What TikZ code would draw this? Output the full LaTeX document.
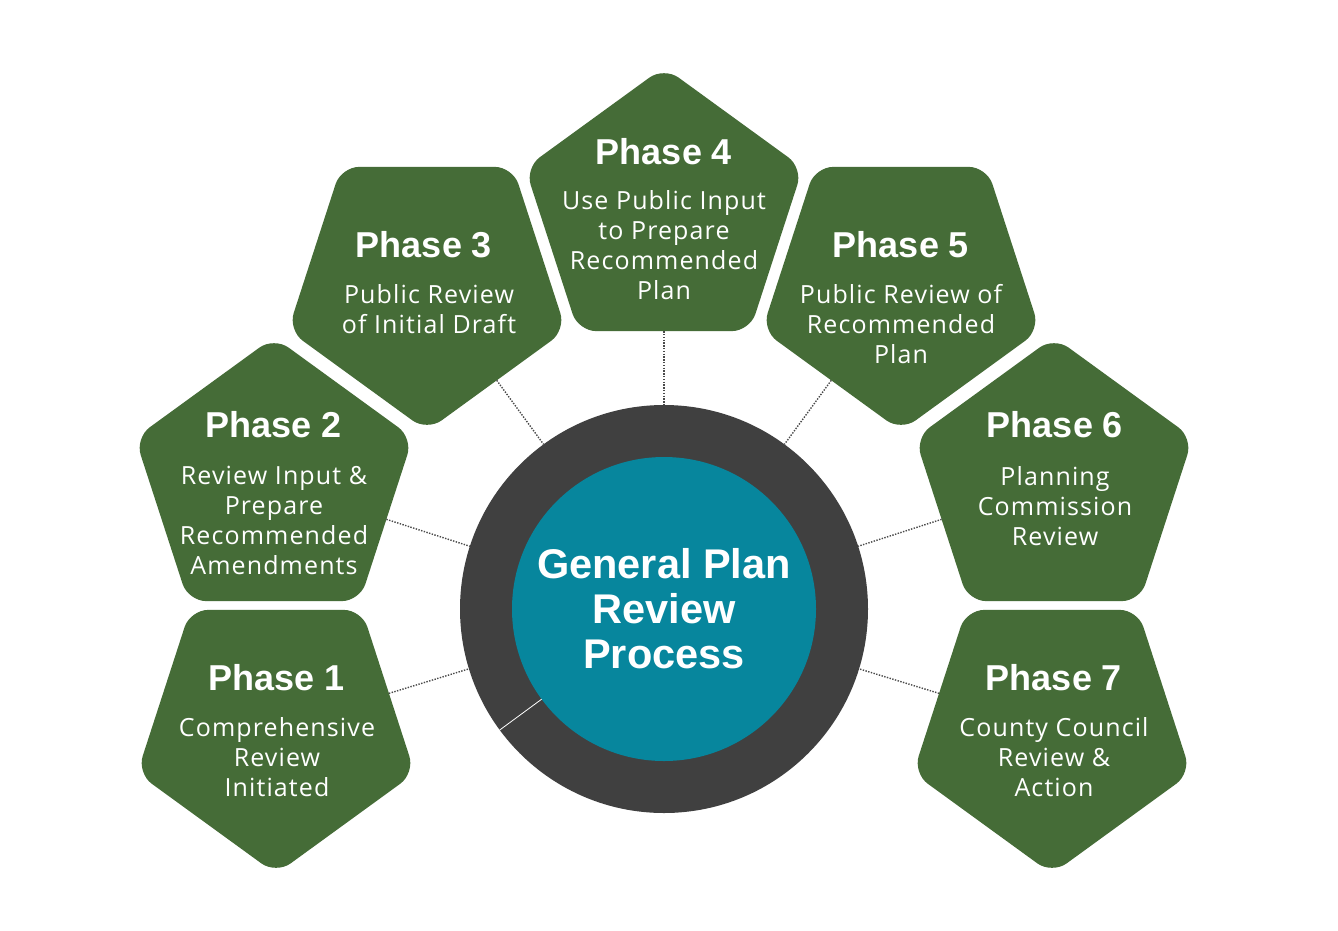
\documentclass[tikz,border=0pt]{standalone}
\usepackage{fontspec}
\setmainfont{Open Sans}
\newfontfamily\bodyfont[LetterSpace=4.5]{Open Sans}
\newfontfamily\titlefont{Liberation Sans}
\usetikzlibrary{shapes.geometric}
\definecolor{pgreen}{HTML}{456C37}
\definecolor{ringgray}{HTML}{404040}
\definecolor{cteal}{HTML}{07869D}
\definecolor{dotgray}{HTML}{4A4A4A}
\begin{document}
\begin{tikzpicture}[x=1pt,y=-1pt,
  pent/.style={regular polygon, regular polygon sides=5, minimum size=292pt, inner sep=0pt, outer sep=0pt, fill=pgreen, rounded corners=18pt},
  pdown/.style={pent, shape border rotate=180},
  ttl/.style={text=white, inner sep=0pt, font=\titlefont\bfseries\fontsize{36}{40}\selectfont},
  body/.style={text=white, inner sep=0pt, align=center, font=\bodyfont\fontsize{25}{30}\selectfont},
  conn/.style={draw=dotgray, line width=1.4pt, dash pattern=on 1.4pt off 1.4pt},
  ctext/.style={text=white, align=center, inner sep=0pt, font=\titlefont\bfseries\fontsize{41.5}{45}\selectfont}]
\useasboundingbox[fill=white] (0,0) rectangle (1338,930);

% pentagons
\node[pdown] (p1) at (276,728) {};
\node[pent]  (p2) at (274,483) {};
\node[pdown] (p3) at (427,285) {};
\node[pent]  (p4) at (664,213) {};
\node[pdown] (p5) at (901,285) {};
\node[pent]  (p6) at (1054,483) {};
\node[pdown] (p7) at (1052,728) {};

% center ring
\node[circle, fill=ringgray, minimum size=408pt, inner sep=0pt, outer sep=0pt] (ring) at (664,609) {};
\node[circle, fill=cteal, minimum size=304pt, inner sep=0pt, outer sep=0pt] (core) at (664,609) {};
\coordinate (seamin) at (541.6,699.2);
\coordinate (seamout) at (499.7,730.0);
\draw[white, line width=0.8pt] (seamin) -- (seamout);
\node[ctext] (ct) at (664,609) {General Plan\\Review\\Process};

% connectors
\foreach \i in {1,...,7} { \draw[conn] (p\i) -- (ring); }

% texts
\node[ttl] (t1) at (277,678) {Phase 1};
\node[body] (b1) at (277,757) {Comprehensive\\Review\\Initiated};
\node[ttl] (t2) at (274,425) {Phase 2};
\node[body] (b2) at (274,520) {Review Input \&\\Prepare\\Recommended\\Amendments};
\node[ttl] (t3) at (424,245) {Phase 3};
\node[body] (b3) at (429,309) {Public Review\\of Initial Draft};
\node[ttl] (t4) at (664,152) {Phase 4};
\node[body] (b4) at (664,245) {Use Public Input\\to Prepare\\Recommended\\Plan};
\node[ttl] (t5) at (901,245) {Phase 5};
\node[body] (b5) at (901,324) {Public Review of\\Recommended\\Plan};
\node[ttl] (t6) at (1055,425) {Phase 6};
\node[body] (b6) at (1055,506) {Planning\\Commission\\Review};
\node[ttl] (t7) at (1054,678) {Phase 7};
\node[body] (b7) at (1054,757) {County Council\\Review \&\\Action};
\end{tikzpicture}
\end{document}
